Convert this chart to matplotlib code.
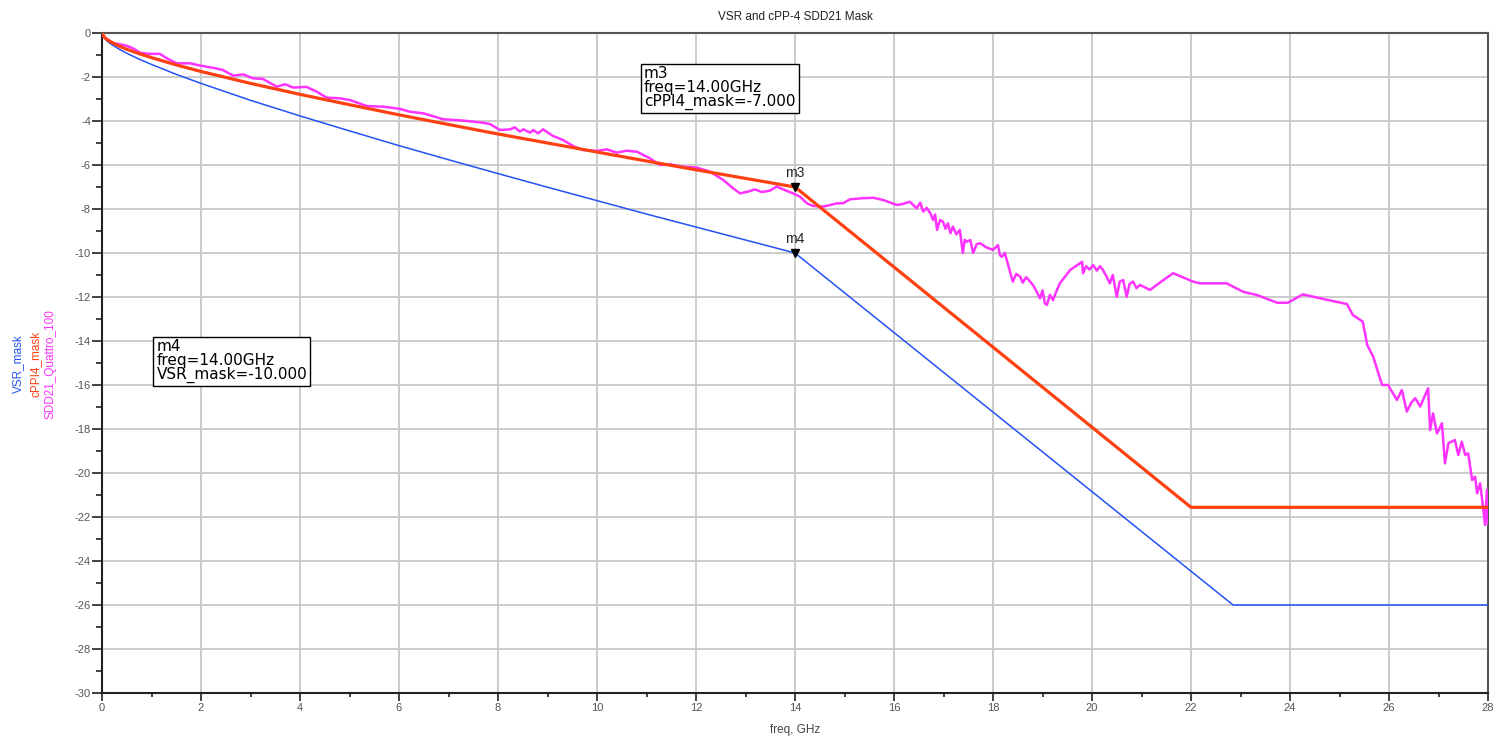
import matplotlib
matplotlib.use("Agg")
import matplotlib.pyplot as plt
import numpy as np

plt.rcParams['font.family'] = ['Liberation Sans', 'DejaVu Sans']
plt.rcParams['axes.unicode_minus'] = False

title = "VSR and cPP-4 SDD21 Mask"
xlabel = "freq, GHz"

# VSR mask
vsr_freq = [0, 0.05, 0.1, 0.2, 0.35, 0.5, 0.75, 1, 1.5, 2, 3, 4, 5, 6, 7, 8, 9, 10, 11, 12, 13, 14, 22.85, 28]
vsr_db = [0, -0.24, -0.36, -0.53, -0.74, -0.92, -1.19, -1.43, -1.88, -2.29, -3.06, -3.77, -4.45, -5.12,
          -5.76, -6.39, -7.01, -7.62, -8.23, -8.82, -9.41, -10.0, -26.0, -26.0]

# cPPI4 mask
cpp_freq = [0, 0.05, 0.1, 0.2, 0.35, 0.5, 0.75, 1, 1.5, 2, 3, 4, 5, 6, 7, 8, 9, 10, 11, 12, 13, 14, 22.0, 28]
cpp_db = [0, -0.20, -0.30, -0.43, -0.60, -0.74, -0.94, -1.12, -1.45, -1.75, -2.29, -2.79, -3.26, -3.72,
          -4.16, -4.59, -5.00, -5.41, -5.82, -6.22, -6.61, -7.00, -21.56, -21.56]

# SDD21 measured
sdd_freq = [0.0, 0.03, 0.22, 0.5, 0.63, 0.77, 0.97, 1.17, 1.31, 1.51, 1.78, 1.98, 2.24, 2.44, 2.65, 2.85,
            3.05, 3.25, 3.53, 3.70, 3.86, 4.13, 4.34, 4.54, 4.81, 5.01, 5.35, 5.68, 6.02, 6.22, 6.49, 6.89,
            7.29, 7.70, 7.84, 8.04, 8.24, 8.34, 8.44, 8.51, 8.65, 8.71, 8.81, 8.91, 9.11, 9.31, 9.52, 9.72,
            10.0, 10.2, 10.4, 10.6, 10.81, 11.07, 11.27, 11.47, 11.74, 12.02, 12.28, 12.55, 12.75, 12.89,
            13.05, 13.19, 13.33, 13.49, 13.63, 13.76, 13.96, 14.1, 14.24, 14.36, 14.57, 14.71, 14.85, 14.97,
            15.11, 15.37, 15.58, 15.78, 16.06, 16.18, 16.32, 16.46, 16.53, 16.59, 16.66, 16.73, 16.79, 16.83,
            16.87, 16.93, 16.99, 17.04, 17.09, 17.14, 17.19, 17.26, 17.33, 17.39, 17.43, 17.47, 17.54, 17.60,
            17.67, 17.74, 17.87, 18.0, 18.1, 18.14, 18.18, 18.24, 18.3, 18.35, 18.40, 18.47, 18.55, 18.6,
            18.67, 18.75, 18.82, 18.88, 18.95, 19.0, 19.05, 19.09, 19.15, 19.21, 19.27, 19.35, 19.56, 19.8,
            19.82, 19.88, 19.95, 20.02, 20.1, 20.16, 20.22, 20.3, 20.36, 20.42, 20.5, 20.56, 20.63, 20.7,
            20.76, 20.83, 20.9, 20.97, 21.17, 21.4, 21.64, 22.04, 22.18, 22.52, 22.72, 23.05, 23.33, 23.74,
            23.96, 24.26, 24.67, 25.15, 25.27, 25.47, 25.56, 25.68, 25.86, 25.98, 26.16, 26.26, 26.36, 26.45,
            26.53, 26.63, 26.79, 26.83, 26.89, 26.97, 27.07, 27.13, 27.2, 27.33, 27.4, 27.47, 27.54, 27.6,
            27.68, 27.74, 27.78, 27.84, 27.9, 27.94, 27.98, 28.0]
sdd_db = [-0.05, -0.17, -0.45, -0.58, -0.7, -0.9, -0.95, -0.95, -1.15, -1.38, -1.38, -1.48, -1.58, -1.68,
          -1.94, -1.88, -2.06, -2.09, -2.44, -2.33, -2.48, -2.45, -2.67, -2.94, -2.97, -3.05, -3.32, -3.35,
          -3.45, -3.58, -3.65, -3.92, -3.98, -4.08, -4.14, -4.41, -4.38, -4.29, -4.48, -4.38, -4.53, -4.41,
          -4.56, -4.38, -4.68, -4.86, -5.14, -5.32, -5.36, -5.29, -5.44, -5.35, -5.40, -5.70, -6.0, -5.97,
          -6.08, -6.12, -6.30, -6.68, -7.06, -7.29, -7.21, -7.11, -7.23, -7.17, -6.98, -7.11, -7.29, -7.44,
          -7.74, -7.86, -7.89, -7.82, -7.74, -7.74, -7.56, -7.51, -7.49, -7.59, -7.82, -7.77, -7.67, -7.97,
          -7.71, -8.12, -7.95, -8.18, -8.5, -8.25, -8.95, -8.5, -8.58, -8.9, -8.65, -9.1, -8.8, -9.15, -8.95,
          -10.0, -9.4, -9.49, -9.41, -10.0, -9.6, -9.56, -9.75, -9.86, -9.64, -10.1, -10.17, -10.0, -10.5,
          -10.9, -11.3, -10.95, -11.08, -11.35, -11.1, -11.3, -11.5, -11.75, -12.06, -11.7, -12.3, -12.36,
          -11.9, -12.14, -11.8, -11.38, -10.77, -10.4, -10.92, -10.6, -10.75, -10.55, -10.8, -10.6, -10.77,
          -11.1, -11.38, -11.0, -11.99, -11.3, -11.23, -11.99, -11.4, -11.3, -11.6, -11.45, -11.68, -11.3,
          -10.92, -11.3, -11.38, -11.38, -11.38, -11.76, -11.91, -12.26, -12.26, -11.88, -12.09, -12.32,
          -12.82, -13.12, -14.18, -14.71, -16.0, -16.0, -16.68, -16.23, -17.21, -16.8, -16.6, -16.98, -16.15,
          -18.05, -17.29, -18.2, -17.74, -19.56, -18.65, -18.5, -19.18, -18.58, -19.18, -19.11, -20.32,
          -20.17, -20.92, -20.47, -21.53, -22.36, -20.77, -22.3]

marker_freq = 14.0
m3_val = -7.0
m4_val = -10.0

fig = plt.figure(figsize=(15, 7.43), dpi=100)
ax = fig.add_axes([0.068, 0.0673, 0.924, 0.8883])

ax.plot(vsr_freq, vsr_db, color='#2452F5', lw=1.1, zorder=3)
ax.plot(sdd_freq, sdd_db, color='#FF33FF', lw=1.8, zorder=4)
ax.plot(cpp_freq, cpp_db, color='#FF4010', lw=2.3, zorder=5)

ax.set_xlim(0, 28)
ax.set_ylim(-30, 0)
ax.set_xticks(np.arange(0, 29, 2))
ax.set_yticks(np.arange(-30, 1, 2))
ax.set_xticks(np.arange(1, 28, 2), minor=True)
ax.set_yticks(np.arange(-29, 0, 2), minor=True)
ax.grid(True, which='major', color='#c8c8c8', lw=1.3)
ax.set_axisbelow(True)
ax.tick_params(which='major', direction='out', length=7, width=1.2, color='#222222',
               labelsize=8, labelcolor='#555555', pad=1)
ax.tick_params(which='minor', direction='out', length=4, width=1.2, color='#222222')
ax.tick_params(axis='x', which='major', length=6)
ax.tick_params(axis='x', which='minor', length=3)
for side in ['left', 'bottom']:
    ax.spines[side].set_color('#222222')
    ax.spines[side].set_linewidth(1.5)
for side in ['top', 'right']:
    ax.spines[side].set_color('#555555')
    ax.spines[side].set_linewidth(1.5)

ax.set_title(title, fontsize=8.5, color='#222222', pad=9)
ax.set_xlabel(xlabel, fontsize=8.5, color='#444444', labelpad=8)

# y-axis trace labels
fig.text(0.012, 0.51, "VSR_mask", rotation=90, color='#2452F5', fontsize=8.5, ha='center', va='center')
fig.text(0.0235, 0.51, "cPPI4_mask", rotation=90, color='#FF4010', fontsize=8.5, ha='center', va='center')
fig.text(0.0335, 0.51, "SDD21_Quattro_100", rotation=90, color='#FF33FF', fontsize=8.5, ha='center', va='center')

# markers
for val, name in [(m3_val, 'm3'), (m4_val, 'm4')]:
    ax.plot([marker_freq], [val], marker='v', color='black', markersize=6, zorder=6, linestyle='none')
    ax.annotate(name, (marker_freq, val), xytext=(0, 5), textcoords='offset points',
                ha='center', va='bottom', fontsize=10, color='#222222', zorder=6)

box = dict(boxstyle='square,pad=0.2', fc='white', ec='black', lw=1)
ax.text(10.95, -1.5, "m3\nfreq=14.00GHz\ncPPI4_mask=-7.000", fontsize=11, family='DejaVu Sans',
        ha='left', va='top', linespacing=0.9, bbox=box, zorder=7)
ax.text(1.1, -13.9, "m4\nfreq=14.00GHz\nVSR_mask=-10.000", fontsize=11, family='DejaVu Sans',
        ha='left', va='top', linespacing=0.9, bbox=box, zorder=7)

fig.savefig('out.png', dpi=100)
